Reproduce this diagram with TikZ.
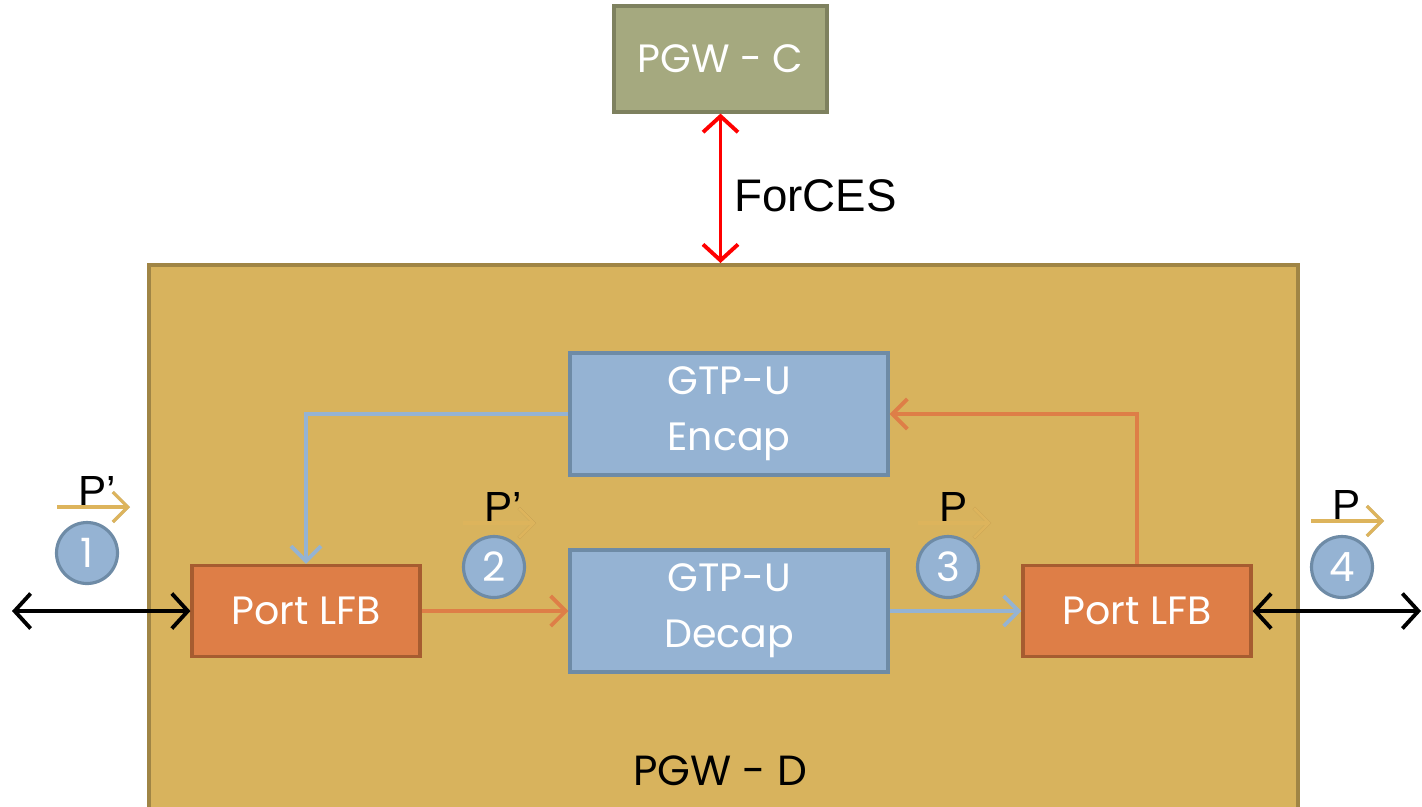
\documentclass[tikz,border=0pt]{standalone}
\usepackage{fontspec}
\setmainfont{Liberation Sans}
\newfontfamily\pgwfont{Poppins}
\usetikzlibrary{arrows.meta,positioning}
\definecolor{pgolive}{HTML}{A5A97F}
\definecolor{pgolivedark}{HTML}{7E815F}
\definecolor{pggold}{HTML}{D8B35D}
\definecolor{pggolddark}{HTML}{A08545}
\definecolor{pgblue}{HTML}{95B3D3}
\definecolor{pgbluedark}{HTML}{6E8BA6}
\definecolor{pgorange}{HTML}{DE7E47}
\definecolor{pgorangedark}{HTML}{A65C30}
\definecolor{pgtan}{HTML}{DDB45C}
\definecolor{pgred}{HTML}{FF0000}
\tikzset{
  pg box/.style={draw, line width=1.8pt, align=center, text=white,
    font=\pgwfont\fontsize{22.5}{32}\selectfont},
  pg ctrl/.style={pg box, fill=pgolive, draw=pgolivedark, minimum width=42.6mm, minimum height=21.2mm},
  pg gtp/.style={pg box, fill=pgblue, draw=pgbluedark, minimum width=63.6mm, minimum height=24.4mm},
  pg lfb/.style={pg box, fill=pgorange, draw=pgorangedark, minimum width=45.6mm, minimum height=18.2mm},
  pg panel/.style={draw=pggolddark, fill=pggold, line width=2.2pt, anchor=north west,
    minimum width=229.8mm, minimum height=120mm},
  pg num/.style={circle, fill=pgblue, draw=pgbluedark, line width=1.8pt, minimum size=12.2mm,
    inner sep=0pt, text=white, font=\pgwfont\fontsize{23}{23}\selectfont},
  pg wire/.style={line width=2.2pt, {Straight Barb[length=3.2mm,width=7mm]}-{Straight Barb[length=3.2mm,width=7mm]}},
  pg flow/.style={line width=2.2pt, -{Straight Barb[length=3mm,width=6mm]}},
  pg pkt/.style={line width=1.8pt, draw=pgtan, -{Straight Barb[length=3mm,width=6mm]}},
  pg shade/.style={pg pkt, draw=black, opacity=0.25, shift={(1.5,4)}},
  pg label/.style={font=\fontsize{24}{24}\selectfont}
}
\begin{document}
\begin{tikzpicture}[x=0.02cm, y=-0.02cm]
  \useasboundingbox (0,0) rectangle (1422,806);
  \node[pg panel] (pgwd) at (147,263) {};
  \node[font=\pgwfont\fontsize{24}{24}\selectfont] (pgwdname) at (720,771) {PGW - D};
  \node[pg ctrl] (pgwc) at (720.5,59) {PGW - C};
  \node[pg gtp] (encap) at (729,414) {GTP-U\\Encap};
  \node[pg gtp] (decap) at (729,611) {GTP-U\\Decap};
  \node[pg lfb] (lfbin) at (306,611) {Port LFB};
  \node[pg lfb] (lfbout) at (1137,611) {Port LFB};
  \coordinate (wirel) at (12,611);
  \coordinate (wirer) at (1421,611);
  % control link
  \draw[pg wire, draw=pgred] (pgwc.south) -- (pgwc.south |- pgwd.north);
  \node[font=\fontsize{26}{26}\selectfont, anchor=west] (forces) at (728,196) {ForCES};
  % data path
  \draw[pg wire] (wirel) -- (lfbin.west);
  \draw[pg wire] (lfbout.east) -- (wirer);
  \draw[pg flow, draw=pgorange] (lfbin.east) -- (decap.west);
  \draw[pg flow, draw=pgblue] (decap.east) -- (lfbout.west);
  \draw[pg flow, draw=pgorange] (lfbout.north) |- (encap.east);
  \draw[pg flow, draw=pgblue] (encap.west) -| (lfbin.north);
  % packet markers
  \foreach \n/\x/\y/\p/\cx/\cy in {1/57/507/P’/87/553, 2/463/523/P’/494/567,
                                   3/918/523/P/948/567, 4/1311/521/P/1342/567} {
    \coordinate (pka\n) at (\x,\y);
    \coordinate (pkb\n) at (\x+73,\y);
    \draw[pg shade] (pka\n) -- (pkb\n);
    \draw[pg pkt] (pka\n) -- (pkb\n);
    \node[pg label, above=-1mm of pka\n, anchor=south west, xshift=3mm] (pkt\n) {\p};
    \node[pg num] (step\n) at (\cx,\cy) {\n};
  }
\end{tikzpicture}
\end{document}
